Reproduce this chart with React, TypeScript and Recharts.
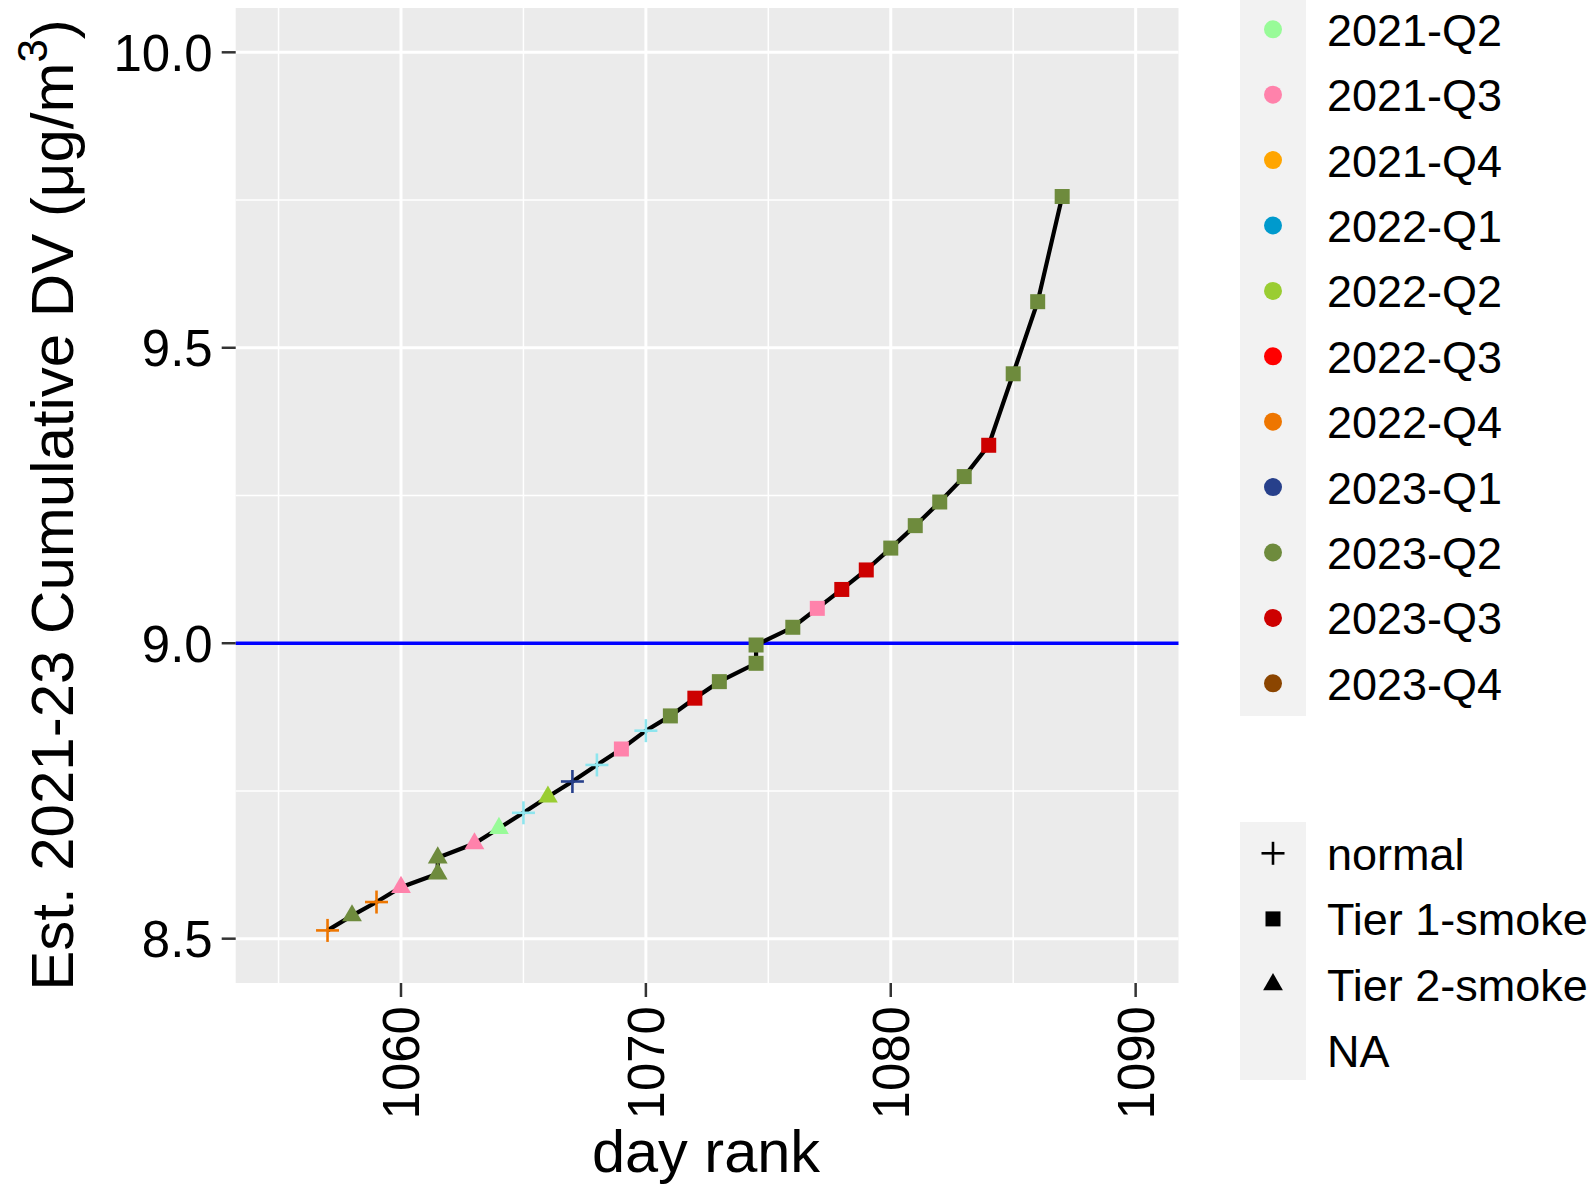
import React from 'react';
import { CartesianGrid, ComposedChart, ReferenceLine, Scatter, XAxis, YAxis } from 'recharts';

// cumulative design value by day rank
const dayRank = [
  1057, 1058, 1059, 1060, 1061.5, 1061.5, 1063, 1064, 1065, 1066, 1067, 1068, 1069, 1070, 1071, 1072,
  1073, 1074.5, 1074.5, 1076, 1077, 1078, 1079, 1080, 1081, 1082, 1083, 1084, 1085, 1086, 1087,
];
const cumDV = [
  8.514, 8.539, 8.562, 8.587, 8.61, 8.637, 8.661, 8.687, 8.713, 8.74, 8.766, 8.794, 8.821, 8.852, 8.877, 8.907,
  8.935, 8.966, 8.997, 9.027, 9.059, 9.091, 9.124, 9.161, 9.199, 9.239, 9.282, 9.335, 9.456, 9.578, 9.756,
];
const quarter = [
  '2022-Q4', '2023-Q2', '2022-Q4', '2021-Q3', '2023-Q2', '2023-Q2', '2021-Q3', '2021-Q2', '2021-Q1', '2022-Q2',
  '2023-Q1', '2021-Q1', '2021-Q3', '2021-Q1', '2023-Q2', '2023-Q3', '2023-Q2', '2023-Q2', '2023-Q2', '2023-Q2',
  '2021-Q3', '2023-Q3', '2023-Q3', '2023-Q2', '2023-Q2', '2023-Q2', '2023-Q2', '2023-Q3', '2023-Q2', '2023-Q2',
  '2023-Q2',
];
const T1 = 'Tier 1-smoke';
const T2 = 'Tier 2-smoke';
const tier = [
  'normal', T2, 'normal', T2, T2, T2, T2, T2, 'normal', T2, 'normal', 'normal', T1, 'normal',
  T1, T1, T1, T1, T1, T1, T1, T1, T1, T1, T1, T1, T1, T1, T1, T1, T1,
];

const quarterColors: Record<string, string> = {
  '2021-Q1': '#8EE5EE',
  '2021-Q2': '#98FB98',
  '2021-Q3': '#FF82AB',
  '2021-Q4': '#FFA500',
  '2022-Q1': '#009ACD',
  '2022-Q2': '#9ACD32',
  '2022-Q3': '#FF0000',
  '2022-Q4': '#EE7600',
  '2023-Q1': '#27408B',
  '2023-Q2': '#6E8B3D',
  '2023-Q3': '#CD0000',
  '2023-Q4': '#8B4500',
};
const legendQuarters = [
  '2021-Q2', '2021-Q3', '2021-Q4', '2022-Q1', '2022-Q2', '2022-Q3', '2022-Q4', '2023-Q1', '2023-Q2', '2023-Q3', '2023-Q4',
];
const legendTiers = ['normal', T1, T2, 'NA'];

const xTicks = [1060, 1070, 1080, 1090];
const xMinor = [1055, 1065, 1075, 1085];
const yTicks = [8.5, 9.0, 9.5, 10.0];
const yMinor = [8.75, 9.25, 9.75];
const threshold = 9.0;

const points = dayRank.map((r, i) => ({ rank: r, dv: cumDV[i], quarter: quarter[i], tier: tier[i] }));

const FONT = '"Liberation Sans", Arial, Helvetica, sans-serif';

function Marker({ kind, color, cx, cy }: { kind: string; color: string; cx: number; cy: number }) {
  if (kind === 'normal') {
    return (
      <g stroke={color} strokeWidth={2.6}>
        <line x1={cx - 11.5} y1={cy} x2={cx + 11.5} y2={cy} />
        <line x1={cx} y1={cy - 11.5} x2={cx} y2={cy + 11.5} />
      </g>
    );
  }
  if (kind === T1) {
    return <rect x={cx - 7.5} y={cy - 7.5} width={15} height={15} fill={color} />;
  }
  if (kind === T2) {
    const pts = `${cx},${cy - 11.4} ${cx + 9.9},${cy + 5.7} ${cx - 9.9},${cy + 5.7}`;
    return <polygon points={pts} fill={color} />;
  }
  return null;
}

function XTick({ x, y, payload }: any) {
  return (
    <text x={x} y={y} transform={`rotate(-90, ${x}, ${y})`} textAnchor="end" dy="0.36em" fontSize={51} fill="#000" fontFamily={FONT}>
      {payload.value}
    </text>
  );
}

function YTick({ x, y, payload }: any) {
  return (
    <text x={x} y={y} textAnchor="end" dy="0.36em" fontSize={51} fill="#000" fontFamily={FONT}>
      {payload.value.toFixed(1)}
    </text>
  );
}

function Legends() {
  return (
    <svg width={1593} height={1187} style={{ position: 'absolute', left: 0, top: 0 }} fontFamily={FONT}>
      <rect x={1240} y={0} width={66} height={716} fill="#F2F2F2" />
      {legendQuarters.map((q, i) => {
        const ky = 29.3 + i * 65.4;
        return (
          <g key={q}>
            <circle cx={1273} cy={ky} r={9} fill={quarterColors[q]} />
            <text x={1327} y={ky + 16.5} fontSize={45} fill="#000">{q}</text>
          </g>
        );
      })}
      <rect x={1240} y={822} width={66} height={258} fill="#F2F2F2" />
      {legendTiers.map((t, i) => {
        const ky = 853.3 + i * 65.6;
        return (
          <g key={t}>
            <Marker kind={t} color="#000" cx={1273} cy={ky} />
            <text x={1327} y={ky + 16.5} fontSize={45} fill="#000">{t}</text>
          </g>
        );
      })}
    </svg>
  );
}

export default function App() {
  return (
    <div style={{ position: 'absolute', left: 0, top: 0, width: 1593, height: 1187, overflow: 'hidden', background: '#fff' }}>
      <ComposedChart width={1180} height={1187} margin={{ top: 8, right: 1.5, bottom: 0, left: 0 }}>
        <CartesianGrid fill="#EBEBEB" stroke="#fff" strokeWidth={1.5} horizontalValues={yMinor} verticalValues={xMinor} />
        <CartesianGrid stroke="#fff" strokeWidth={3} horizontalValues={yTicks} verticalValues={xTicks} />
        <XAxis
          type="number"
          dataKey="rank"
          domain={[1053.25, 1091.75]}
          allowDataOverflow
          ticks={xTicks}
          height={204}
          tickSize={14}
          tickMargin={9}
          axisLine={false}
          tickLine={{ stroke: '#333', strokeWidth: 2.5 }}
          tick={<XTick />}
          label={{
            content: () => (
              <text x={706} y={1172} textAnchor="middle" fontSize={59.5} fill="#000" fontFamily={FONT}>
                day rank
              </text>
            ),
          }}
        />
        <YAxis
          type="number"
          dataKey="dv"
          domain={[8.425, 10.075]}
          allowDataOverflow
          ticks={yTicks}
          width={235.7}
          tickSize={14}
          tickMargin={9}
          axisLine={false}
          tickLine={{ stroke: '#333', strokeWidth: 2.5 }}
          tick={<YTick />}
          label={{
            content: () => (
              <text x={73} y={505} transform="rotate(-90, 73, 505)" textAnchor="middle" fontSize={60} fill="#000" fontFamily={FONT}>
                Est. 2021-23 Cumulative DV (μg/m
                <tspan fontSize={42} dy={-26}>3</tspan>
                <tspan dy={26}>)</tspan>
              </text>
            ),
          }}
        />
        <ReferenceLine y={threshold} stroke="#0000FF" strokeWidth={3.3} />
        <Scatter
          data={points}
          dataKey="dv"
          line={{ stroke: '#000', strokeWidth: 4.2 }}
          lineType="joint"
          isAnimationActive={false}
          shape={(p: any) => <Marker kind={p.payload.tier} color={quarterColors[p.payload.quarter]} cx={p.cx} cy={p.cy} />}
        />
      </ComposedChart>
      <Legends />
    </div>
  );
}
